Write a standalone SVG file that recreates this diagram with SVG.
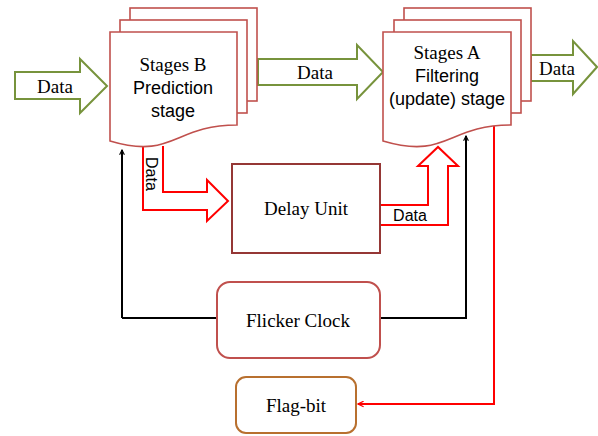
<svg xmlns="http://www.w3.org/2000/svg" width="598" height="436" viewBox="0 0 598 436">
<defs>
<style>
.page{fill:#fff;stroke:#C0504D;stroke-width:1.6}
.garrow{fill:#fff;stroke:#77933C;stroke-width:2}
.rarrow{fill:#fff;stroke:#FF0000;stroke-width:2}
.serif{font-family:"Liberation Serif","Times New Roman",serif;font-size:19px;fill:#000}
.sans{font-family:"Liberation Sans",Arial,sans-serif;font-size:18px;fill:#000}
.lbl{font-family:"Liberation Sans",Arial,sans-serif;font-size:16px;fill:#000}
.blk{fill:none;stroke:#000;stroke-width:2}
.red{fill:none;stroke:#FF0000;stroke-width:2}
</style>
<marker id="ab" viewBox="0 0 10 10" refX="9" refY="5" markerWidth="6" markerHeight="6" orient="auto" markerUnits="userSpaceOnUse">
<path d="M1,1 L9,5 L1,9" fill="none" stroke="#000" stroke-width="1.8"/>
</marker>
<marker id="ar" viewBox="0 0 10 10" refX="9" refY="5" markerWidth="7" markerHeight="7" orient="auto" markerUnits="userSpaceOnUse">
<path d="M1,1 L9,5 L1,9" fill="none" stroke="#FF0000" stroke-width="1.8"/>
</marker>
</defs>
<rect width="598" height="436" fill="#fff"/>

<g id="connectors">
<path class="blk" d="M122,318 V150" marker-end="url(#ab)"/>
<path class="blk" d="M217,318 H122"/>
<path class="blk" d="M380,318 H466 V136" marker-end="url(#ab)"/>
<path class="red" d="M494,126 V404 H358" marker-end="url(#ar)"/>
</g>

<g id="arrow-data-in">
<path class="garrow" d="M15,72 H80 V59 L107,86 L80,113 V99 H15 Z"/>
<text class="serif" x="55" y="93" text-anchor="middle">Data</text>
</g>

<g id="arrow-data-mid">
<path class="garrow" d="M258,59 H357 V45 L383,72 L357,99 V85 H258 Z"/>
<text class="serif" x="315" y="79" text-anchor="middle">Data</text>
</g>

<g id="arrow-data-out">
<path class="garrow" d="M531,55 H573 V41 L597,67 L573,94 V81 H531 Z"/>
<text class="serif" x="557" y="75" text-anchor="middle">Data</text>
</g>

<g id="arrow-b-delay">
<path class="rarrow" d="M143,142 V210 H207 V221 L228,201 L207,180 V192 H163 V146"/>
<text class="lbl" transform="translate(146,157) rotate(90)" x="0" y="0">Data</text>
</g>

<g id="arrow-delay-a">
<path class="rarrow" d="M380,225 H448 V166 H458 L438,147 L418,166 H428 V205 H380"/>
<text class="lbl" x="410" y="221" text-anchor="middle">Data</text>
</g>

<g id="stage-b">
<rect class="page" x="130" y="8" width="127" height="93"/>
<rect class="page" x="120" y="20" width="127" height="93"/>
<path class="page" d="M110,32 H237 V125 C173.5,125 173.5,160 110,141 Z"/>
<text class="serif" x="173" y="71" text-anchor="middle">Stages B</text>
<text class="sans" x="173" y="94" text-anchor="middle">Prediction</text>
<text class="sans" x="173" y="117" text-anchor="middle">stage</text>
</g>

<g id="stage-a">
<rect class="page" x="404" y="8" width="127" height="93"/>
<rect class="page" x="394" y="20" width="127" height="93"/>
<path class="page" d="M383,32 H511 V125 C447,125 447,160 383,141 Z"/>
<text class="serif" x="447" y="59" text-anchor="middle">Stages A</text>
<text class="sans" x="447" y="82" text-anchor="middle">Filtering</text>
<text class="sans" x="447" y="105" text-anchor="middle">(update) stage</text>
</g>

<g id="delay-unit">
<rect x="232" y="164" width="148" height="89" fill="#fff" stroke="#953735" stroke-width="2"/>
<text class="serif" x="306" y="215" text-anchor="middle">Delay Unit</text>
</g>

<g id="flicker-clock">
<rect x="217" y="282" width="163" height="76" rx="13" fill="#fff" stroke="#C0504D" stroke-width="2"/>
<text class="serif" x="298" y="327" text-anchor="middle">Flicker Clock</text>
</g>

<g id="flag-bit">
<rect x="236" y="377" width="120" height="56" rx="10" fill="#fff" stroke="#B8702F" stroke-width="2"/>
<text class="serif" x="296" y="412" text-anchor="middle">Flag-bit</text>
</g>
</svg>
